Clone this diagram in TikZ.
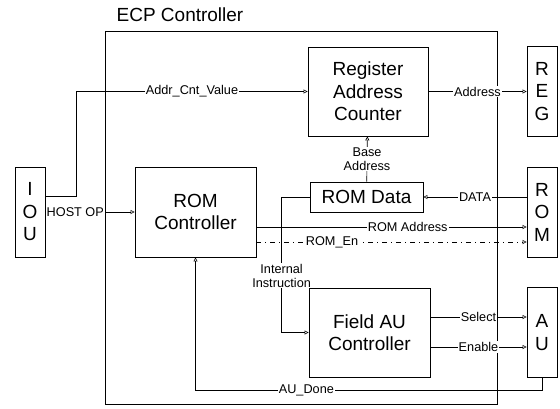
\documentclass[tikz,border=0pt]{standalone}
\usepackage{fontspec}
\setmainfont{Liberation Sans}
\usetikzlibrary{arrows.meta}
\begin{document}
\begin{tikzpicture}[
      x=1pt, y=-1pt,
      bloque/.style={draw, line width=0.8pt, align=center, inner sep=0pt,
                     font=\fontsize{19}{22.5}\selectfont},
      letras/.style={bloque, minimum width=30pt, minimum height=90pt},
      flujo/.style={-{Triangle[open,length=4pt,width=4pt]}, line width=0.6pt},
      etiqueta/.style={font=\fontsize{12.7}{14}\selectfont, fill=white, inner sep=1pt, align=center}
    ]
    \useasboundingbox (0,0) rectangle (560,408);
    \node[draw, line width=0.8pt, inner sep=0pt,
          minimum width=392pt, minimum height=373pt] (ecp) at (301,217.5) {};
    \node[font=\fontsize{19}{22}\selectfont] (titulo) at (180,15) {ECP Controller};

    \node[letras] (iou) at (30,212)  {I\\O\\U};
    \node[letras] (reg) at (542,91.5) {R\\E\\G};
    \node[letras] (rom) at (542,212)  {R\\O\\M};
    \node[letras] (au)  at (542,332.5) {A\\U};

    \node[bloque, minimum width=120pt, minimum height=89pt] (rac)  at (368,91.5)  {Register\\Address\\Counter};
    \node[bloque, minimum width=121pt, minimum height=90pt] (romc) at (195.5,212) {ROM\\Controller};
    \node[bloque, minimum width=113pt, minimum height=30pt] (romd) at (366.5,197) {ROM Data};
    \node[bloque, minimum width=121pt, minimum height=89pt] (fau)  at (369.5,332.5) {Field AU\\Controller};

    \draw[flujo] ([yshift=16pt]iou.east) -- ++(31,0) |- (rac.west)
      node[etiqueta,pos=0.75] {Addr\_Cnt\_Value};
    \draw[flujo] (iou) -- (romc) node[etiqueta,pos=0,anchor=west] {HOST OP};
    \draw[flujo] (rac) -- (reg) node[etiqueta,midway] {Address};
    \draw[flujo] (romd) -- (rac) node[etiqueta,midway] {Base\\Address};
    \draw[flujo] (rom.west |- romd) -- (romd) node[etiqueta,midway] {DATA};
    \draw[flujo] (romd.west) -- ++(-28,0) |- (fau.west)
      node[etiqueta,pos=0.29] {Internal\\Instruction};
    \draw[flujo] ([yshift=-15pt]romc.east) -- ([yshift=-15pt]rom.west)
      node[etiqueta,pos=0.56] {ROM Address};
    \draw[flujo,dash pattern=on 5pt off 4pt on 1pt off 4pt] ([yshift=-30pt]romc.east) -- ([yshift=-30pt]rom.west)
      node[etiqueta,pos=0.28] {ROM\_En};
    \draw[flujo] ([yshift=15.5pt]fau.east) -- ([yshift=15.5pt]au.west) node[etiqueta,midway] {Select};
    \draw[flujo] ([yshift=-14.5pt]fau.east) -- ([yshift=-14.5pt]au.west) node[etiqueta,midway] {Enable};
    \draw[flujo] (au.south) -- ++(0,12) -| (romc.south)
      node[etiqueta,pos=0.34] {AU\_Done};
  \end{tikzpicture}
\end{document}
